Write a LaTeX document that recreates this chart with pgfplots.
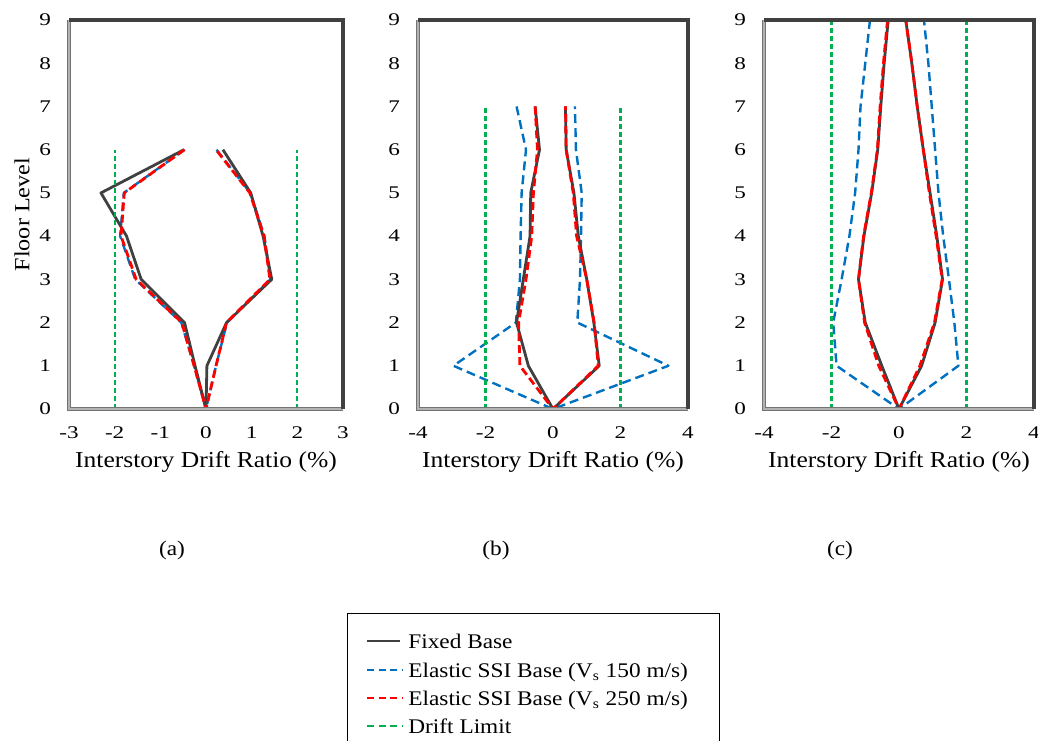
\documentclass[border=0pt]{standalone}
\usepackage{fontspec}
\setmainfont[FakeStretch=1.12]{Liberation Serif}
\newfontfamily\tickfont[FakeStretch=1.3]{Liberation Serif}
\usepackage{pgfplots}
\pgfplotsset{compat=1.18}

\definecolor{fixc}{HTML}{404040}
\definecolor{vsa}{HTML}{0070C0}
\definecolor{vsb}{HTML}{FF0000}
\definecolor{limc}{HTML}{00B050}

\tikzset{
  fixline/.style={fixc, line width=1.4pt, line join=round},
  vsaline/.style={vsa, line width=1.2pt, dash pattern=on 4.5pt off 2.5pt, line join=round},
  vsbline/.style={vsb, line width=1.4pt, dash pattern=on 4pt off 2pt, line join=round},
  limline/.style={limc, line width=1.1pt, dash pattern=on 2.5pt off 1.5pt},
}

\pgfplotsset{
  drift/.style={
    scale only axis, height=194.5pt, anchor=south west,
    ymin=0, ymax=9, ytick={0,...,9},
    axis line style={draw=none}, tick style={draw=none},
    /pgf/number format/assume math mode=true,
    ticklabel style={font=\tickfont\fontsize{8.9}{9}\selectfont},
    yticklabel style={xshift=-5.5pt},
    xticklabel style={yshift=-5.5pt},
    xlabel={Interstory Drift Ratio (\%)},
    xlabel style={font=\fontsize{11.4}{12}\selectfont,
      at={(axis description cs:0.5,0)}, anchor=base, yshift=-29pt},
    clip=false,
  },
}

\newcommand{\frameit}{%
  \draw[line width=2pt, black!55] (rel axis cs:0,1) -- (rel axis cs:0,0) -- (rel axis cs:1,0);
  \draw[line width=0.7pt, black!30] (rel axis cs:0,1) -- (rel axis cs:0,0) -- (rel axis cs:1,0);
  \draw[line width=2pt, black!75] (rel axis cs:0,1) -- (rel axis cs:1,1) -- (rel axis cs:1,0);
}

\begin{document}
\begin{tikzpicture}[x=1pt,y=1pt]
\useasboundingbox (0,0) rectangle (519,-370);

% (a)
\begin{axis}[drift, at={(34.5pt,-204.5pt)}, width=137pt,
  xmin=-3, xmax=3, xtick={-3,...,3},
  ylabel={Floor Level},
  ylabel style={font=\fontsize{10.8}{12}\selectfont,
    at={(axis description cs:-0.172,0.5)}, anchor=center}]
\addplot[vsaline] coordinates {(-0.47,6)(-1.80,5)(-1.88,4)(-1.55,3)(-0.54,2)(-0.26,1)(0,0)
  (0.22,1)(0.46,2)(1.41,3)(1.28,4)(0.97,5)(0.23,6)};
\addplot[fixline] coordinates {(-0.48,6)(-2.30,5)(-1.74,4)(-1.42,3)(-0.47,2)(-0.24,1)(0,0)
  (0.02,1)(0.45,2)(1.44,3)(1.25,4)(0.98,5)(0.37,6)};
\addplot[vsbline] coordinates {(-0.47,6)(-1.79,5)(-1.86,4)(-1.53,3)(-0.53,2)(-0.26,1)(0,0)
  (0.22,1)(0.45,2)(1.40,3)(1.27,4)(0.96,5)(0.22,6)};
\addplot[limline] coordinates {(-2,0)(-2,6)};
\addplot[limline] coordinates {(2,0)(2,6)};
\frameit
\end{axis}

% (b)
\begin{axis}[drift, at={(209pt,-204.5pt)}, width=135pt,
  xmin=-4, xmax=4, xtick={-4,-2,0,2,4}]
\addplot[vsaline] coordinates {(-1.08,7)(-0.80,6)(-0.93,5)(-0.96,4)(-0.98,3)(-1.10,2)(-2.95,1)(0,0)
  (3.42,1)(0.72,2)(0.80,3)(0.83,4)(0.85,5)(0.68,6)(0.65,7)};
\addplot[fixline] coordinates {(-0.53,7)(-0.40,6)(-0.66,5)(-0.68,4)(-0.88,3)(-1.08,2)(-0.73,1)(0,0)
  (1.37,1)(1.21,2)(1.00,3)(0.75,4)(0.62,5)(0.39,6)(0.37,7)};
\addplot[vsbline] coordinates {(-0.53,7)(-0.46,6)(-0.58,5)(-0.63,4)(-0.80,3)(-1.02,2)(-0.98,1)(0,0)
  (1.34,1)(1.22,2)(1.00,3)(0.70,4)(0.60,5)(0.39,6)(0.37,7)};
\addplot[limline] coordinates {(-2,0)(-2,7)};
\addplot[limline] coordinates {(2,0)(2,7)};
\frameit
\end{axis}

% (c)
\begin{axis}[drift, at={(382pt,-204.5pt)}, width=135pt,
  xmin=-4, xmax=4, xtick={-4,-2,0,2,4}]
\addplot[vsaline] coordinates {(-0.86,9)(-1.00,8)(-1.14,7)(-1.20,6)(-1.30,5)(-1.47,4)(-1.70,3)(-1.95,2)(-1.85,1)(0,0)
  (1.76,1)(1.64,2)(1.48,3)(1.31,4)(1.17,5)(1.07,6)(0.97,7)(0.87,8)(0.74,9)};
\addplot[fixline] coordinates {(-0.32,9)(-0.44,8)(-0.54,7)(-0.63,6)(-0.81,5)(-1.04,4)(-1.20,3)(-1.00,2)(-0.51,1)(0,0)
  (0.67,1)(1.07,2)(1.29,3)(1.12,4)(0.92,5)(0.72,6)(0.54,7)(0.38,8)(0.20,9)};
\addplot[vsbline] coordinates {(-0.34,9)(-0.46,8)(-0.56,7)(-0.64,6)(-0.82,5)(-1.05,4)(-1.20,3)(-1.02,2)(-0.60,1)(0,0)
  (0.62,1)(1.05,2)(1.28,3)(1.10,4)(0.90,5)(0.72,6)(0.54,7)(0.38,8)(0.20,9)};
\addplot[limline] coordinates {(-2,0)(-2,9)};
\addplot[limline] coordinates {(2,0)(2,9)};
\frameit
\end{axis}

% panel captions
\begin{scope}[font=\fontsize{10.4}{11}\selectfont]
\node[anchor=base] at (86,-277.5) {(a)};
\node[anchor=base] at (248,-277.5) {(b)};
\node[anchor=base] at (420,-277.5) {(c)};
\end{scope}

% legend
\draw[line width=0.5pt, black] (173.5,-306.5) rectangle (359.5,-380);
\begin{scope}[font=\fontsize{10.4}{11}\selectfont]
\draw[fixline] (183.5,-320.5) -- (200,-320.5);
\node[anchor=base west, inner sep=0] at (204,-324) {Fixed Base};
\draw[vsa, line width=1.2pt, dash pattern=on 3.5pt off 2.3pt] (183.5,-335) -- (201,-335);
\node[anchor=base west, inner sep=0] at (204,-338.5) {Elastic SSI Base (V\textsubscript{\scriptsize s} 150 m/s)};
\draw[vsb, line width=0.9pt, dash pattern=on 3.5pt off 2.3pt] (183.5,-349) -- (201,-349);
\node[anchor=base west, inner sep=0] at (204,-352.5) {Elastic SSI Base (V\textsubscript{\scriptsize s} 250 m/s)};
\draw[limc, line width=0.9pt, dash pattern=on 3.5pt off 2.3pt] (183.5,-363) -- (201,-363);
\node[anchor=base west, inner sep=0] at (204,-366.5) {Drift Limit};
\end{scope}
\end{tikzpicture}
\end{document}
